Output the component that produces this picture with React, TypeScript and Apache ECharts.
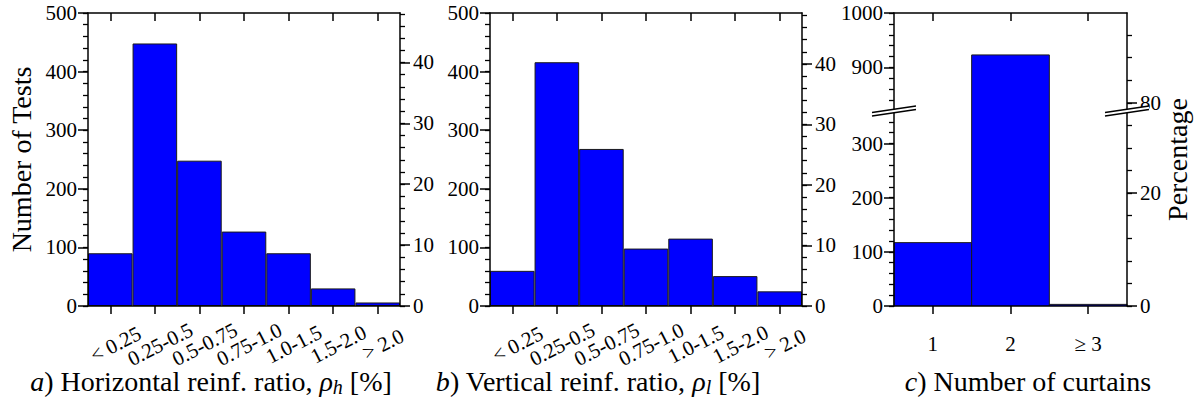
import React, { useEffect, useRef } from 'react';
import * as echarts from 'echarts';

// Histogram bins and number of tests per bin
const horizontalBins = ['< 0.25', '0.25-0.5', '0.5-0.75', '0.75-1.0', '1.0-1.5', '1.5-2.0', '> 2.0'];
const horizontalCounts = [90, 448, 248, 127, 90, 30, 6];

const verticalBins = ['< 0.25', '0.25-0.5', '0.5-0.75', '0.75-1.0', '1.0-1.5', '1.5-2.0', '> 2.0'];
const verticalCounts = [60, 416, 268, 98, 115, 51, 25];

const curtainBins = ['1', '2', '≥ 3'];
const curtainCounts = [117, 923, 3];

// Count axis ranges (the curtain panel uses a broken axis)
const COUNT_MAX = 500;
const CURTAIN_LOWER: [number, number] = [0, 360];
const CURTAIN_UPPER: [number, number] = [820, 1000];

// Layout
const TOP = 13;
const BOTTOM = 306;
const BREAK_Y = 111;
const PANEL_A = { left: 88, width: 312 };
const PANEL_B = { left: 490, width: 312 };
const PANEL_C = { left: 894, width: 233 };

const FONT = 'Liberation Serif';
const INK = '#000000';
const BLUE = '#0000ff';
const EDGE = '#1a1a1a';
const AXIS_LINE = { color: INK, width: 1.5 };
const TICK_TEXT = { fontFamily: FONT, fontSize: 21, color: INK };

const sum = (a: number[]) => a.reduce((s, v) => s + v, 0);

function multiples(lo: number, hi: number, step: number): number[] {
  const out: number[] = [];
  for (let k = Math.ceil(lo / step - 1e-9); k * step <= hi + 1e-9; k++) out.push(k * step);
  return out;
}

function buildOption() {
  const grid: any[] = [];
  const xAxis: any[] = [];
  const yAxis: any[] = [];
  const series: any[] = [];

  const addGrid = (left: number, top: number, width: number, height: number) => {
    grid.push({ left, top, width, height, containLabel: false, outerBoundsMode: 'none' });
    return grid.length - 1;
  };

  const addX = (gridIndex: number, data: string[], position: 'top' | 'bottom', labels?: any) => {
    xAxis.push({
      gridIndex,
      type: 'category',
      data,
      position,
      boundaryGap: true,
      z: 5,
      axisLine: { show: true, onZero: false, lineStyle: AXIS_LINE },
      axisTick: {
        show: true,
        alignWithLabel: true,
        interval: 0,
        inside: position === 'top',
        length: 8,
        lineStyle: AXIS_LINE,
      },
      axisLabel: labels ? { show: true, interval: 0, ...TICK_TEXT, ...labels } : { show: false },
      splitLine: { show: false },
    });
    return xAxis.length - 1;
  };

  // A labelled axis with long ticks plus an overlaid axis carrying the short ticks
  const addY = (
    gridIndex: number,
    position: 'left' | 'right',
    min: number,
    max: number,
    majorStep: number,
    minorStep: number,
    skip: number[] = []
  ) => {
    const majors = multiples(min, max, majorStep).filter((v) => !skip.includes(v));
    const minors = multiples(min, max, minorStep).filter((v) => !skip.includes(v));
    yAxis.push({
      gridIndex,
      type: 'value',
      position,
      min,
      max,
      z: 5,
      axisLine: { show: true, onZero: false, lineStyle: AXIS_LINE },
      axisTick: { show: true, length: 10, customValues: majors, lineStyle: AXIS_LINE },
      axisLabel: {
        show: true,
        customValues: majors,
        margin: position === 'left' ? 11 : 13,
        formatter: (v: number) => String(v),
        ...TICK_TEXT,
      },
      splitLine: { show: false },
    });
    const idx = yAxis.length - 1;
    yAxis.push({
      gridIndex,
      type: 'value',
      position,
      min,
      max,
      z: 5,
      axisLine: { show: false, onZero: false },
      axisTick: { show: true, length: 5, customValues: minors, lineStyle: { color: INK, width: 1.3 } },
      axisLabel: { show: false },
      splitLine: { show: false },
    });
    return idx;
  };

  const bars = (xAxisIndex: number, yAxisIndex: number, data: number[]) => ({
    type: 'bar',
    xAxisIndex,
    yAxisIndex,
    data,
    barWidth: '100%',
    silent: true,
    itemStyle: { color: BLUE, borderColor: EDGE, borderWidth: 1 },
  });

  const rotated = {
    rotate: 27,
    align: 'center',
    verticalAlign: 'middle',
    margin: 41,
    fontSize: 21,
    padding: [0, 0, 0, 12],
  };

  // a) horizontal reinforcement ratio
  const ga = addGrid(PANEL_A.left, TOP, PANEL_A.width, BOTTOM - TOP);
  const xa = addX(ga, horizontalBins, 'bottom', rotated);
  addX(ga, horizontalBins, 'top');
  const ya = addY(ga, 'left', 0, COUNT_MAX, 100, 20);
  addY(ga, 'right', 0, (COUNT_MAX / sum(horizontalCounts)) * 100, 10, 2);
  series.push(bars(xa, ya, horizontalCounts));

  // b) vertical reinforcement ratio
  const gb = addGrid(PANEL_B.left, TOP, PANEL_B.width, BOTTOM - TOP);
  const xb = addX(gb, verticalBins, 'bottom', rotated);
  addX(gb, verticalBins, 'top');
  const yb = addY(gb, 'left', 0, COUNT_MAX, 100, 20);
  addY(gb, 'right', 0, (COUNT_MAX / sum(verticalCounts)) * 100, 10, 2);
  series.push(bars(xb, yb, verticalCounts));

  // c) number of curtains, broken count axis
  const totalC = sum(curtainCounts);
  const gl = addGrid(PANEL_C.left, BREAK_Y, PANEL_C.width, BOTTOM - BREAK_Y);
  const xl = addX(gl, curtainBins, 'bottom', { margin: 27 });
  const yl = addY(gl, 'left', CURTAIN_LOWER[0], CURTAIN_LOWER[1], 100, 20, [CURTAIN_LOWER[1]]);
  addY(gl, 'right', (CURTAIN_LOWER[0] / totalC) * 100, (CURTAIN_LOWER[1] / totalC) * 100, 20, 4);

  const gu = addGrid(PANEL_C.left, TOP, PANEL_C.width, BREAK_Y - TOP);
  const xu = addX(gu, curtainBins, 'top');
  const yu = addY(gu, 'left', CURTAIN_UPPER[0], CURTAIN_UPPER[1], 100, 20, [CURTAIN_UPPER[0]]);
  addY(gu, 'right', (CURTAIN_UPPER[0] / totalC) * 100, (CURTAIN_UPPER[1] / totalC) * 100, 20, 4);

  // Bars split across the two segments, leaving the outline open at the break
  const curtainBars = (xAxisIndex: number, yAxisIndex: number, lo: number, hi: number) => ({
    type: 'custom',
    xAxisIndex,
    yAxisIndex,
    silent: true,
    data: curtainCounts.map((v, i) => [i, v]),
    encode: { x: 0, y: 1 },
    renderItem: (_params: any, api: any) => {
      const i = api.value(0);
      const v = api.value(1);
      if (v <= lo) return null;
      const w = api.size([1, 0])[0];
      const base = api.coord([i, lo]);
      const top = api.coord([i, Math.min(v, hi)])[1];
      const x0 = base[0] - w / 2;
      const x1 = base[0] + w / 2;
      const y0 = base[1];
      const edge = { stroke: EDGE, lineWidth: 1, fill: null };
      const children: any[] = [
        { type: 'rect', shape: { x: x0, y: top, width: w, height: y0 - top }, style: { fill: BLUE } },
      ];
      if (v > hi) {
        children.push({ type: 'line', shape: { x1: x0, y1: y0, x2: x0, y2: top }, style: edge });
        children.push({ type: 'line', shape: { x1: x1, y1: y0, x2: x1, y2: top }, style: edge });
      } else {
        children.push({
          type: 'polyline',
          shape: { points: [[x0, y0], [x0, top], [x1, top], [x1, y0]] },
          style: edge,
        });
      }
      return { type: 'group', children };
    },
  });
  series.push(curtainBars(xl, yl, CURTAIN_LOWER[0], CURTAIN_LOWER[1]));
  series.push(curtainBars(xu, yu, CURTAIN_UPPER[0], CURTAIN_UPPER[1]));

  // Break marks on both sides of the curtain panel
  const breakMarks: any[] = [];
  const half = 22;
  const rise = 3.2;
  const gap = 3.4;
  [PANEL_C.left, PANEL_C.left + PANEL_C.width].forEach((x) => {
    const a0 = [x - half, BREAK_Y - gap / 2 + rise];
    const a1 = [x + half, BREAK_Y - gap / 2 - rise];
    const b0 = [x - half, BREAK_Y + gap / 2 + rise];
    const b1 = [x + half, BREAK_Y + gap / 2 - rise];
    breakMarks.push({ type: 'polygon', z: 100, shape: { points: [a0, a1, b1, b0] }, style: { fill: '#ffffff' } });
    breakMarks.push({ type: 'line', z: 101, shape: { x1: a0[0], y1: a0[1], x2: a1[0], y2: a1[1] }, style: { stroke: INK, lineWidth: 1.5 } });
    breakMarks.push({ type: 'line', z: 101, shape: { x1: b0[0], y1: b0[1], x2: b1[0], y2: b1[1] }, style: { stroke: INK, lineWidth: 1.5 } });
  });

  const richTitle = (text: string, x: number) => ({
    type: 'text',
    z: 100,
    x,
    y: 381,
    style: {
      text,
      fontSize: 28,
      fontFamily: FONT,
      fill: INK,
      align: 'center',
      verticalAlign: 'middle',
      lineHeight: 32,
      rich: {
        it: { fontStyle: 'italic', fontSize: 28, fontFamily: FONT, fill: INK, lineHeight: 32 },
        sub: { fontStyle: 'italic', fontSize: 20, fontFamily: FONT, fill: INK, lineHeight: 20, verticalAlign: 'bottom' },
      },
    },
  });

  const axisName = (text: string, x: number) => ({
    type: 'text',
    z: 100,
    x,
    y: (TOP + BOTTOM) / 2,
    rotation: Math.PI / 2,
    style: { text, fontSize: 28, fontFamily: FONT, fill: INK, align: 'center', verticalAlign: 'middle' },
  });

  return {
    animation: false,
    backgroundColor: '#ffffff',
    textStyle: { fontFamily: FONT },
    grid,
    xAxis,
    yAxis,
    series,
    graphic: [
      ...breakMarks,
      axisName('Number of Tests', 21),
      axisName('Percentage', 1177),
      richTitle('{it|a}) Horizontal reinf. ratio, {it|ρ}{sub|h} [%]', 211),
      richTitle('{it|b}) Vertical reinf. ratio, {it|ρ}{sub|l} [%]', 598),
      richTitle('{it|c}) Number of curtains', 1028),
    ],
  };
}

export default function App() {
  const ref = useRef<HTMLDivElement>(null);
  useEffect(() => {
    if (!ref.current) return;
    const chart = echarts.init(ref.current, undefined, { renderer: 'svg' });
    chart.setOption(buildOption() as any);
    return () => chart.dispose();
  }, []);
  return (
    <div
      ref={ref}
      style={{ position: 'absolute', left: 0, top: 0, width: 1196, height: 408, background: '#ffffff' }}
    />
  );
}
